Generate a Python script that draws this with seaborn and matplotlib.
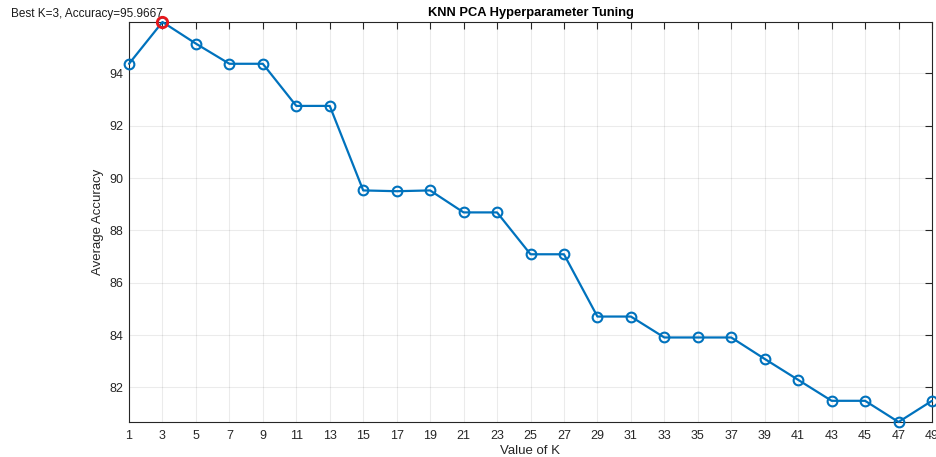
import matplotlib
matplotlib.use("Agg")
import matplotlib.pyplot as plt
import seaborn as sns
import numpy as np
import pandas as pd

k_values = [1, 3, 5, 7, 9, 11, 13, 15, 17, 19, 21, 23, 25, 27, 29, 31, 33, 35, 37, 39, 41, 43, 45, 47, 49]
accuracy = [94.37, 95.9667, 95.14, 94.37, 94.37, 92.76, 92.76, 89.53, 89.50, 89.53, 88.69, 88.69,
            87.09, 87.09, 84.71, 84.71, 83.91, 83.91, 83.91, 83.09, 82.29, 81.49, 81.49, 80.68, 81.49]
best_k = 3
best_acc = 95.9667
title = "KNN PCA Hyperparameter Tuning"
xlabel = "Value of K"
ylabel = "Average Accuracy"
yticks = [82, 84, 86, 88, 90, 92, 94]

df = pd.DataFrame({"K": k_values, "Accuracy": accuracy})

sns.set_theme(style="white")
plt.rcParams["font.family"] = ["Liberation Sans", "DejaVu Sans"]

fig = plt.figure(figsize=(9.37, 4.57), dpi=100)
ax = fig.add_axes([129/937, 1-422/457, (932-129)/937, (422-22)/457])

blue = "#0072BD"
sns.lineplot(data=df, x="K", y="Accuracy", ax=ax, color=blue, linewidth=1.6,
             marker="o", markersize=7, markerfacecolor="none",
             markeredgecolor=blue, markeredgewidth=1.5, clip_on=False, zorder=4)
ax.plot([best_k], [best_acc], marker="o", markersize=7.5, markerfacecolor="none",
        markeredgecolor="#E8171B", markeredgewidth=2.0, linestyle="none", zorder=5,
        clip_on=False)

ax.text(best_k, best_acc + 0.06, f"Best K={best_k}, Accuracy={best_acc}", ha="right", va="bottom",
        fontsize=8.5, color="#1a1a1a", clip_on=False)

ax.set_xlim(min(k_values), max(k_values))
ax.set_ylim(min(accuracy), max(accuracy))
ax.set_xticks(k_values)
ax.set_yticks(yticks)
ax.grid(True, color="#000000", alpha=0.08, linewidth=0.8)
ax.set_axisbelow(True)

for s in ax.spines.values():
    s.set_color("#262626")
    s.set_linewidth(0.8)
ax.tick_params(axis="both", direction="in", length=5, width=0.8, color="#262626",
               labelsize=9, labelcolor="#262626", top=True, right=True)
ax.tick_params(axis="x", pad=6)
ax.tick_params(axis="y", pad=4)

ax.set_title(title, fontsize=9.3, fontweight="bold", color="#000000", pad=4)
ax.set_xlabel(xlabel, fontsize=9.5, color="#262626", labelpad=2)
ax.set_ylabel(ylabel, fontsize=9.5, color="#262626", labelpad=4)

fig.savefig("out.png", dpi=100)
